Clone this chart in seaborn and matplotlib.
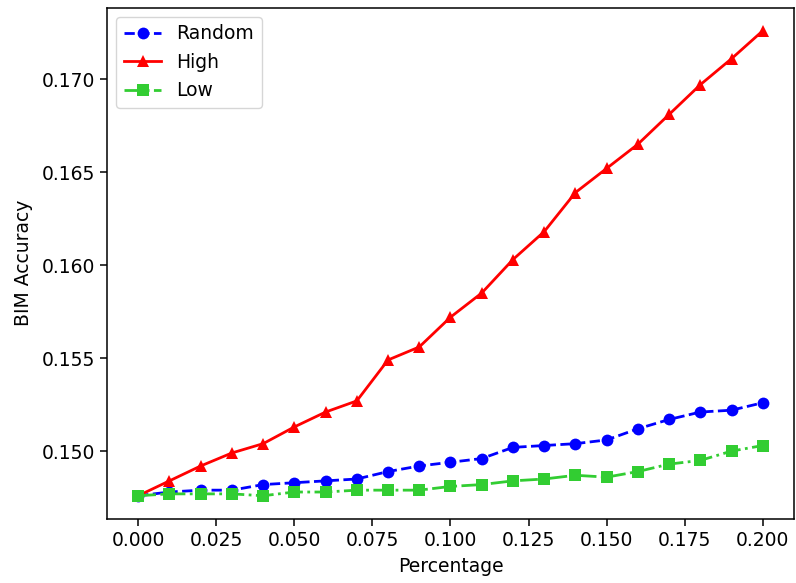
import numpy as np
import pandas as pd
import matplotlib
matplotlib.use("Agg")
import matplotlib.pyplot as plt
import seaborn as sns

percentage = [0.00, 0.01, 0.02, 0.03, 0.04, 0.05, 0.06, 0.07, 0.08, 0.09, 0.10,
              0.11, 0.12, 0.13, 0.14, 0.15, 0.16, 0.17, 0.18, 0.19, 0.20]
random_acc = [0.1476, 0.1478, 0.1479, 0.1479, 0.1482, 0.1483, 0.1484, 0.1485, 0.1489, 0.1492, 0.1494,
              0.1496, 0.1502, 0.1503, 0.1504, 0.1506, 0.1512, 0.1517, 0.1521, 0.1522, 0.1526]
high_acc = [0.1476, 0.1484, 0.1492, 0.1499, 0.1504, 0.1513, 0.1521, 0.1527, 0.1549, 0.1556, 0.1572,
            0.1585, 0.1603, 0.1618, 0.1639, 0.1652, 0.1665, 0.1681, 0.1697, 0.1711, 0.1726]
low_acc = [0.1476, 0.1477, 0.1477, 0.1477, 0.1476, 0.1478, 0.1478, 0.1479, 0.1479, 0.1479, 0.1481,
           0.1482, 0.1484, 0.1485, 0.1487, 0.1486, 0.1489, 0.1493, 0.1495, 0.1500, 0.1503]
xtick_vals = [0.0, 0.025, 0.05, 0.075, 0.1, 0.125, 0.15, 0.175, 0.2]
ytick_vals = [0.150, 0.155, 0.160, 0.165, 0.170]

plt.rcParams['font.family'] = ['DejaVu Sans']
FS = 13.5
fig = plt.figure(figsize=(7.96, 5.83), dpi=100)
ax = fig.add_axes([0.1344, 0.1098, 0.8631, 0.8773])

series = [("Random", random_acc, "blue", "o", (0, (3.7, 1.6))),
          ("High", high_acc, "red", "^", "-"),
          ("Low", low_acc, "limegreen", "s", (0, (6.4, 1.6, 1, 1.6)))]
for name, vals, col, mk, ls in series:
    df = pd.DataFrame({"Percentage": percentage, "BIM Accuracy": vals})
    sns.lineplot(data=df, x="Percentage", y="BIM Accuracy", ax=ax, color=col,
                 marker=mk, markersize=8.5, markeredgewidth=0, linewidth=2,
                 linestyle=ls, label=name)

ax.set_xticks(xtick_vals)
ax.set_xticklabels([f"{v:.3f}" for v in xtick_vals])
ax.set_yticks(ytick_vals)
ax.set_yticklabels([f"{v:.3f}" for v in ytick_vals])
ax.margins(0.05)
ax.tick_params(labelsize=FS, length=5, width=1.1)
for s in ax.spines.values():
    s.set_linewidth(1.1)
ax.set_xlabel("Percentage", fontsize=FS, labelpad=5)
ax.set_ylabel("BIM Accuracy", fontsize=FS, labelpad=6)
ax.legend(loc="upper left", fontsize=FS, handlelength=2.0)
fig.savefig("out.png", dpi=100)
